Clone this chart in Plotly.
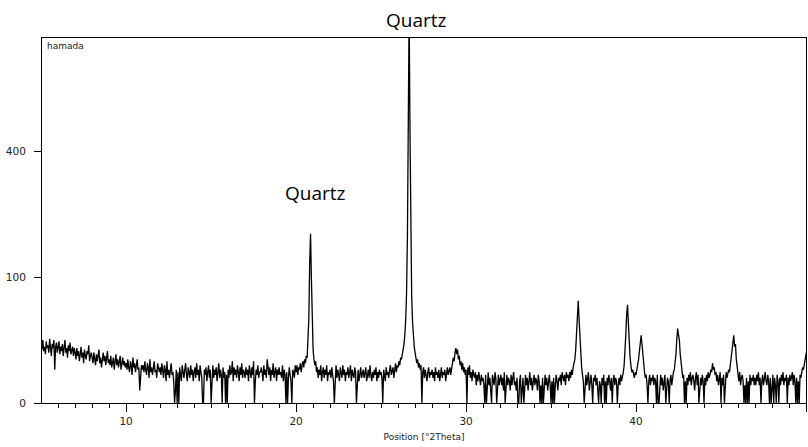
import numpy as np
import plotly.graph_objects as go

# 2theta grid: 5.00 .. 50.05 deg, step 0.05
two_theta_start = 5.0
two_theta_step = 0.05

counts = [
    # 5
    22, 18, 25, 17, 20, 15, 24, 19, 21, 16, 26, 18, 14, 22, 19, 25, 7, 20, 23, 16,
    # 6
    19, 24, 15, 20, 17, 22, 14, 18, 25, 16, 19, 13, 21, 17, 23, 15, 18, 20, 14, 19,
    # 7
    16, 12, 19, 14, 17, 11, 15, 20, 13, 16, 10, 18, 14, 12, 17, 15, 21, 11, 14, 16,
    # 8
    13, 10, 16, 12, 9, 15, 11, 14, 18, 10, 13, 8, 12, 16, 11, 14, 9, 13, 17, 10,
    # 9
    12, 9, 14, 8, 11, 13, 7, 10, 15, 9, 12, 8, 11, 14, 7, 10, 13, 9, 11, 8,
    # 10
    10, 7, 12, 8, 6, 11, 9, 5, 13, 8, 10, 6, 9, 12, 7, 8, 1, 5, 9, 7,
    # 11
    9, 6, 11, 7, 5, 10, 8, 4, 12, 6, 8, 5, 9, 11, 6, 7, 4, 10, 8, 6,
    # 12
    8, 5, 10, 6, 4, 9, 7, 3, 11, 5, 7, 4, 8, 10, 5, 6, 3, 0, 1, 7,
    # 13
    0, 6, 0, 8, 5, 3, 9, 6, 4, 7, 10, 5, 3, 8, 6, 4, 9, 5, 7, 3,
    # 14
    6, 8, 4, 10, 5, 7, 3, 9, 6, 4, 0, 0, 7, 5, 8, 3, 6, 9, 4, 7,
    # 15
    0, 6, 9, 4, 7, 5, 8, 3, 6, 10, 4, 7, 5, 0, 8, 4, 6, 0, 5, 0,
    # 16
    7, 4, 9, 5, 6, 11, 3, 8, 5, 7, 4, 9, 6, 3, 8, 5, 10, 4, 7, 6,
    # 17
    4, 8, 5, 7, 3, 9, 6, 4, 8, 5, 11, 0, 3, 7, 5, 9, 4, 6, 6, 8,
    # 18
    6, 3, 9, 5, 7, 4, 12, 6, 5, 8, 3, 7, 5, 10, 4, 6, 8, 3, 7, 5,
    # 19
    8, 5, 6, 4, 9, 3, 7, 5, 0, 6, 0, 4, 8, 5, 3, 0, 7, 6, 4, 9,
    # 20
    6, 9, 5, 8, 7, 10, 6, 9, 11, 8, 12, 10, 14, 13, 22, 45, 125, 181, 98, 38,
    # 21
    18, 12, 9, 11, 6, 8, 4, 7, 5, 9, 3, 6, 8, 4, 7, 5, 9, 3, 6, 5,
    # 22
    7, 4, 8, 5, 3, 0, 6, 9, 4, 7, 5, 3, 8, 6, 4, 9, 5, 7, 3, 6,
    # 23
    5, 8, 4, 6, 9, 3, 7, 5, 4, 8, 6, 0, 5, 7, 3, 6, 8, 4, 5, 7,
    # 24
    4, 6, 8, 3, 5, 7, 4, 9, 5, 3, 6, 4, 7, 5, 8, 3, 6, 4, 7, 5,
    # 25
    6, 4, 0, 7, 5, 3, 8, 5, 6, 4, 7, 9, 5, 6, 8, 4, 7, 10, 6, 9,
    # 26
    8, 11, 9, 13, 12, 15, 17, 22, 30, 44, 78, 175, 490, 980, 470, 165, 72, 42, 28, 20,
    # 27
    16, 13, 10, 12, 8, 10, 7, 9, 0, 6, 8, 4, 7, 5, 3, 6, 8, 4, 6, 5,
    # 28
    7, 4, 6, 3, 8, 5, 6, 4, 7, 3, 5, 8, 4, 6, 5, 7, 3, 6, 8, 5,
    # 29
    6, 8, 5, 9, 10, 13, 11, 16, 19, 15, 18, 12, 14, 9, 11, 7, 10, 6, 8, 5,
    # 30
    7, 0, 8, 5, 9, 4, 6, 3, 7, 5, 4, 6, 2, 5, 3, 6, 4, 2, 5, 3,
    # 31
    4, 2, 0, 5, 0, 3, 6, 2, 4, 1, 0, 5, 3, 2, 6, 4, 0, 3, 5, 2,
    # 32
    3, 5, 2, 4, 1, 6, 0, 3, 5, 2, 4, 3, 1, 5, 2, 4, 6, 2, 3, 1,
    # 33
    4, 0, 0, 3, 5, 0, 2, 4, 0, 3, 5, 2, 4, 1, 3, 6, 2, 4, 1, 3,
    # 34
    5, 2, 4, 3, 1, 5, 3, 0, 2, 0, 4, 0, 3, 5, 2, 4, 1, 3, 5, 2,
    # 35
    0, 3, 0, 4, 0, 2, 5, 3, 1, 4, 3, 5, 2, 6, 4, 3, 5, 2, 6, 4,
    # 36
    5, 3, 6, 4, 7, 5, 8, 10, 12, 18, 36, 56, 66, 44, 27, 14, 8, 5, 3, 0,
    # 37
    3, 5, 2, 4, 6, 1, 3, 5, 2, 0, 4, 3, 5, 2, 4, 1, 0, 3, 2, 0,
    # 38
    4, 2, 5, 0, 3, 0, 4, 2, 5, 3, 1, 4, 0, 3, 5, 2, 4, 3, 0, 2,
    # 39
    4, 2, 5, 3, 4, 6, 9, 15, 30, 50, 61, 40, 22, 13, 9, 6, 7, 5, 4, 6,
    # 40
    5, 7, 9, 12, 17, 24, 29, 22, 14, 9, 6, 4, 5, 2, 0, 3, 5, 2, 4, 3,
    # 41
    5, 2, 4, 3, 0, 5, 0, 0, 3, 5, 2, 4, 1, 3, 5, 0, 2, 4, 3, 0,
    # 42
    3, 5, 2, 4, 6, 7, 10, 15, 26, 35, 29, 25, 15, 10, 6, 4, 5, 0, 3, 0,
    # 43
    4, 2, 5, 3, 6, 2, 4, 5, 3, 1, 4, 6, 2, 5, 0, 3, 4, 2, 5, 3,
    # 44
    0, 4, 2, 5, 3, 6, 4, 5, 7, 6, 10, 7, 8, 5, 6, 3, 5, 2, 4, 6,
    # 45
    0, 4, 2, 5, 0, 3, 6, 4, 5, 7, 6, 9, 12, 18, 24, 29, 20, 22, 12, 7,
    # 46
    5, 3, 6, 2, 4, 5, 3, 0, 2, 0, 4, 0, 3, 0, 5, 2, 4, 3, 5, 2,
    # 47
    4, 2, 5, 3, 6, 2, 4, 0, 3, 5, 2, 4, 6, 3, 2, 5, 3, 0, 4, 0,
    # 48
    3, 5, 0, 4, 2, 0, 5, 3, 0, 4, 2, 5, 3, 6, 2, 4, 3, 5, 0, 4,
    # 49
    2, 5, 3, 4, 6, 2, 5, 3, 0, 4, 0, 3, 0, 5, 4, 6, 8, 7, 9, 11,
    # 50
    14, 18,
]

y_tick_values = [0, 100, 400]
y_tick_labels = ["0", "100", "400"]
peak_labels = ["Quartz", "Quartz"]
sample_name = "hamada"
x_title = "Position [°2Theta]"

two_theta = np.round(two_theta_start + two_theta_step * np.arange(len(counts)), 2)
counts_arr = np.array(counts, dtype=float)

fig = go.Figure()
fig.add_trace(go.Scatter(
    x=two_theta, y=np.sqrt(counts_arr), mode="lines",
    line=dict(color="black", width=1.3), hoverinfo="skip", showlegend=False,
))

tick_font = dict(family="DejaVu Sans", size=10.5, color="#222")

fig.update_layout(
    width=808, height=447,
    margin=dict(l=42, r=2, t=38, b=44),
    paper_bgcolor="white", plot_bgcolor="white",
    showlegend=False,
    xaxis=dict(
        range=[5.05, 50.0], tick0=0, dtick=10, ticks="outside", ticklen=8,
        tickcolor="black", tickwidth=1, automargin=False,
        minor=dict(dtick=1, ticks="outside", ticklen=4, tickcolor="black", tickwidth=1),
        showline=True, linecolor="black", linewidth=1, mirror=True,
        showgrid=False, zeroline=False, tickfont=tick_font,
        title=dict(text=x_title, font=dict(family="DejaVu Sans", size=9, color="#222"), standoff=8),
    ),
    yaxis=dict(
        range=[0, 29.0], tickmode="array",
        tickvals=np.sqrt(y_tick_values), ticktext=y_tick_labels,
        ticks="outside", ticklen=7, tickcolor="black", tickwidth=1,
        ticklabelstandoff=6, automargin=False,
        showline=True, linecolor="black", linewidth=1, mirror=True,
        showgrid=False, zeroline=False, tickfont=tick_font,
    ),
    annotations=[
        dict(text=sample_name, xref="paper", yref="paper", x=0.004, y=0.998,
             xanchor="left", yanchor="top", showarrow=False,
             font=dict(family="DejaVu Sans", size=9, color="#222")),
        dict(text=peak_labels[0], xref="paper", yref="paper", x=0.490, y=1.049,
             xanchor="center", yanchor="middle", showarrow=False,
             font=dict(family="Open Sans", size=19, color="black")),
        dict(text=peak_labels[1], xref="paper", yref="paper", x=0.3586, y=0.575,
             xanchor="center", yanchor="middle", showarrow=False,
             font=dict(family="Open Sans", size=19, color="black")),
    ],
)

fig.write_html("out.html", config={"displayModeBar": False})

# remove the default page margin so the figure sits at the window's top-left corner
with open("out.html", encoding="utf-8") as f:
    html = f.read()
html = html.replace("<head>", "<head><style>html,body{margin:0;padding:0;overflow:hidden}</style>", 1)
with open("out.html", "w", encoding="utf-8") as f:
    f.write(html)
